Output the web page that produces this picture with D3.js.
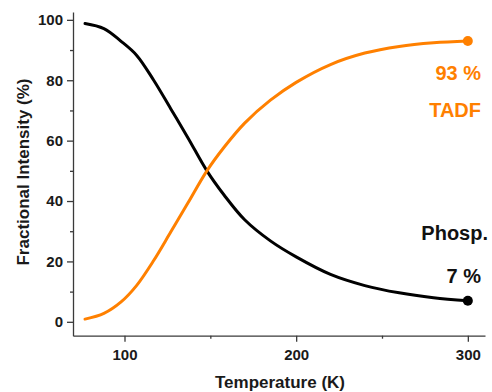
<!DOCTYPE html>
<html>
<head>
<meta charset="utf-8">
<script src="https://cdn.jsdelivr.net/npm/d3@7"></script>
<style>
  html, body { margin: 0; padding: 0; background: #fff; }
  svg { display: block; font-family: "Liberation Sans", Arial, sans-serif; }
</style>
</head>
<body>
<svg id="chart" width="492" height="392"></svg>
<script>
// ---- data ----
const temperatures = [77, 88, 98, 107, 117, 127, 137, 148, 158, 170, 185, 200, 220, 240, 260, 280, 300];
const phospValues  = [98.8, 97.1, 92.9, 88.3, 80.0, 70.5, 60.9, 50.0, 42.0, 33.8, 26.8, 21.5, 15.7, 12.0, 9.6, 8.0, 7.0];
const tadfValues   = [0.9, 2.8, 6.6, 12.0, 20.3, 29.8, 39.4, 50.0, 57.8, 65.8, 73.4, 79.3, 85.2, 89.0, 91.2, 92.4, 93.0];
const xMajorTicks = [100, 200, 300];
const xMinorTicks = [150, 250];
const yMajorTicks = [0, 20, 40, 60, 80, 100];
const yMinorTicks = [10, 30, 50, 70, 90];
const xTitle = "Temperature (K)";
const yTitle = "Fractional Intensity (%)";
const tadfLabels = ["93 %", "TADF"];
const phospLabels = ["Phosp.", "7 %"];

const ORANGE = "#ff8000";
const BLACK = "#000000";
const AXIS = "#3a3a3a";

const svg = d3.select("#chart");
const x = d3.scaleLinear().domain([70, 310]).range([73, 485]);
const y = d3.scaleLinear().domain([-4.6, 102.6]).range([335.7, 12]);

// minor ticks
svg.append("g").attr("transform", `translate(0,${y.range()[0]})`)
  .call(d3.axisBottom(x).tickValues(xMinorTicks).tickSize(3).tickFormat(""))
  .call(g => g.select(".domain").remove())
  .call(g => g.selectAll("line").attr("stroke", AXIS).attr("stroke-width", 1.3));
svg.append("g").attr("transform", `translate(${x.range()[0]},0)`)
  .call(d3.axisLeft(y).tickValues(yMinorTicks).tickSize(3).tickFormat(""))
  .call(g => g.select(".domain").remove())
  .call(g => g.selectAll("line").attr("stroke", AXIS).attr("stroke-width", 1.3));

// major axes
const xAxis = svg.append("g").attr("transform", `translate(0,${y.range()[0]})`)
  .call(d3.axisBottom(x).tickValues(xMajorTicks).tickSize(6).tickSizeOuter(0).tickPadding(8));
const yAxis = svg.append("g").attr("transform", `translate(${x.range()[0]},0)`)
  .call(d3.axisLeft(y).tickValues(yMajorTicks).tickSize(6).tickSizeOuter(0).tickPadding(4));
[xAxis, yAxis].forEach(g => {
  g.select(".domain").attr("stroke", AXIS).attr("stroke-width", 1.3);
  g.selectAll(".tick line").attr("stroke", AXIS).attr("stroke-width", 1.3);
  g.selectAll(".tick text")
    .attr("font-family", "'Liberation Sans', Arial, sans-serif")
    .attr("font-size", 15).attr("font-weight", "bold").attr("fill", "#1a1a1a");
});

// titles
svg.append("text").attr("x", 280).attr("y", 388)
  .attr("text-anchor", "middle").attr("font-size", 17).attr("font-weight", "bold")
  .attr("fill", "#1a1a1a").text(xTitle);
svg.append("text").attr("transform", "translate(29,172) rotate(-90)")
  .attr("text-anchor", "middle").attr("font-size", 17).attr("font-weight", "bold")
  .attr("fill", "#1a1a1a").text(yTitle);

// lines
const line = vals => d3.line()
  .x((d, i) => x(temperatures[i]))
  .y(d => y(d))
  .curve(d3.curveCatmullRom.alpha(0.5))(vals);

svg.append("path").attr("d", line(phospValues))
  .attr("fill", "none").attr("stroke", BLACK).attr("stroke-width", 3).attr("stroke-linejoin", "round").attr("stroke-linecap", "round");
svg.append("path").attr("d", line(tadfValues))
  .attr("fill", "none").attr("stroke", ORANGE).attr("stroke-width", 3).attr("stroke-linejoin", "round").attr("stroke-linecap", "round");

// end dots
const last = temperatures.length - 1;
svg.append("circle").attr("cx", x(temperatures[last])).attr("cy", y(tadfValues[last])).attr("r", 5).attr("fill", ORANGE);
svg.append("circle").attr("cx", x(temperatures[last])).attr("cy", y(phospValues[last])).attr("r", 5).attr("fill", BLACK);

// annotations
svg.append("text").attr("x", 481).attr("y", 80).attr("text-anchor", "end")
  .attr("font-size", 20).attr("font-weight", "bold").attr("fill", ORANGE).text(tadfLabels[0]);
svg.append("text").attr("x", 481).attr("y", 117).attr("text-anchor", "end")
  .attr("font-size", 20).attr("font-weight", "bold").attr("fill", ORANGE).text(tadfLabels[1]);
svg.append("text").attr("x", 488).attr("y", 240).attr("text-anchor", "end")
  .attr("font-size", 20).attr("font-weight", "bold").attr("fill", "#111").text(phospLabels[0]);
svg.append("text").attr("x", 481).attr("y", 283).attr("text-anchor", "end")
  .attr("font-size", 20).attr("font-weight", "bold").attr("fill", "#111").text(phospLabels[1]);
</script>
</body>
</html>
